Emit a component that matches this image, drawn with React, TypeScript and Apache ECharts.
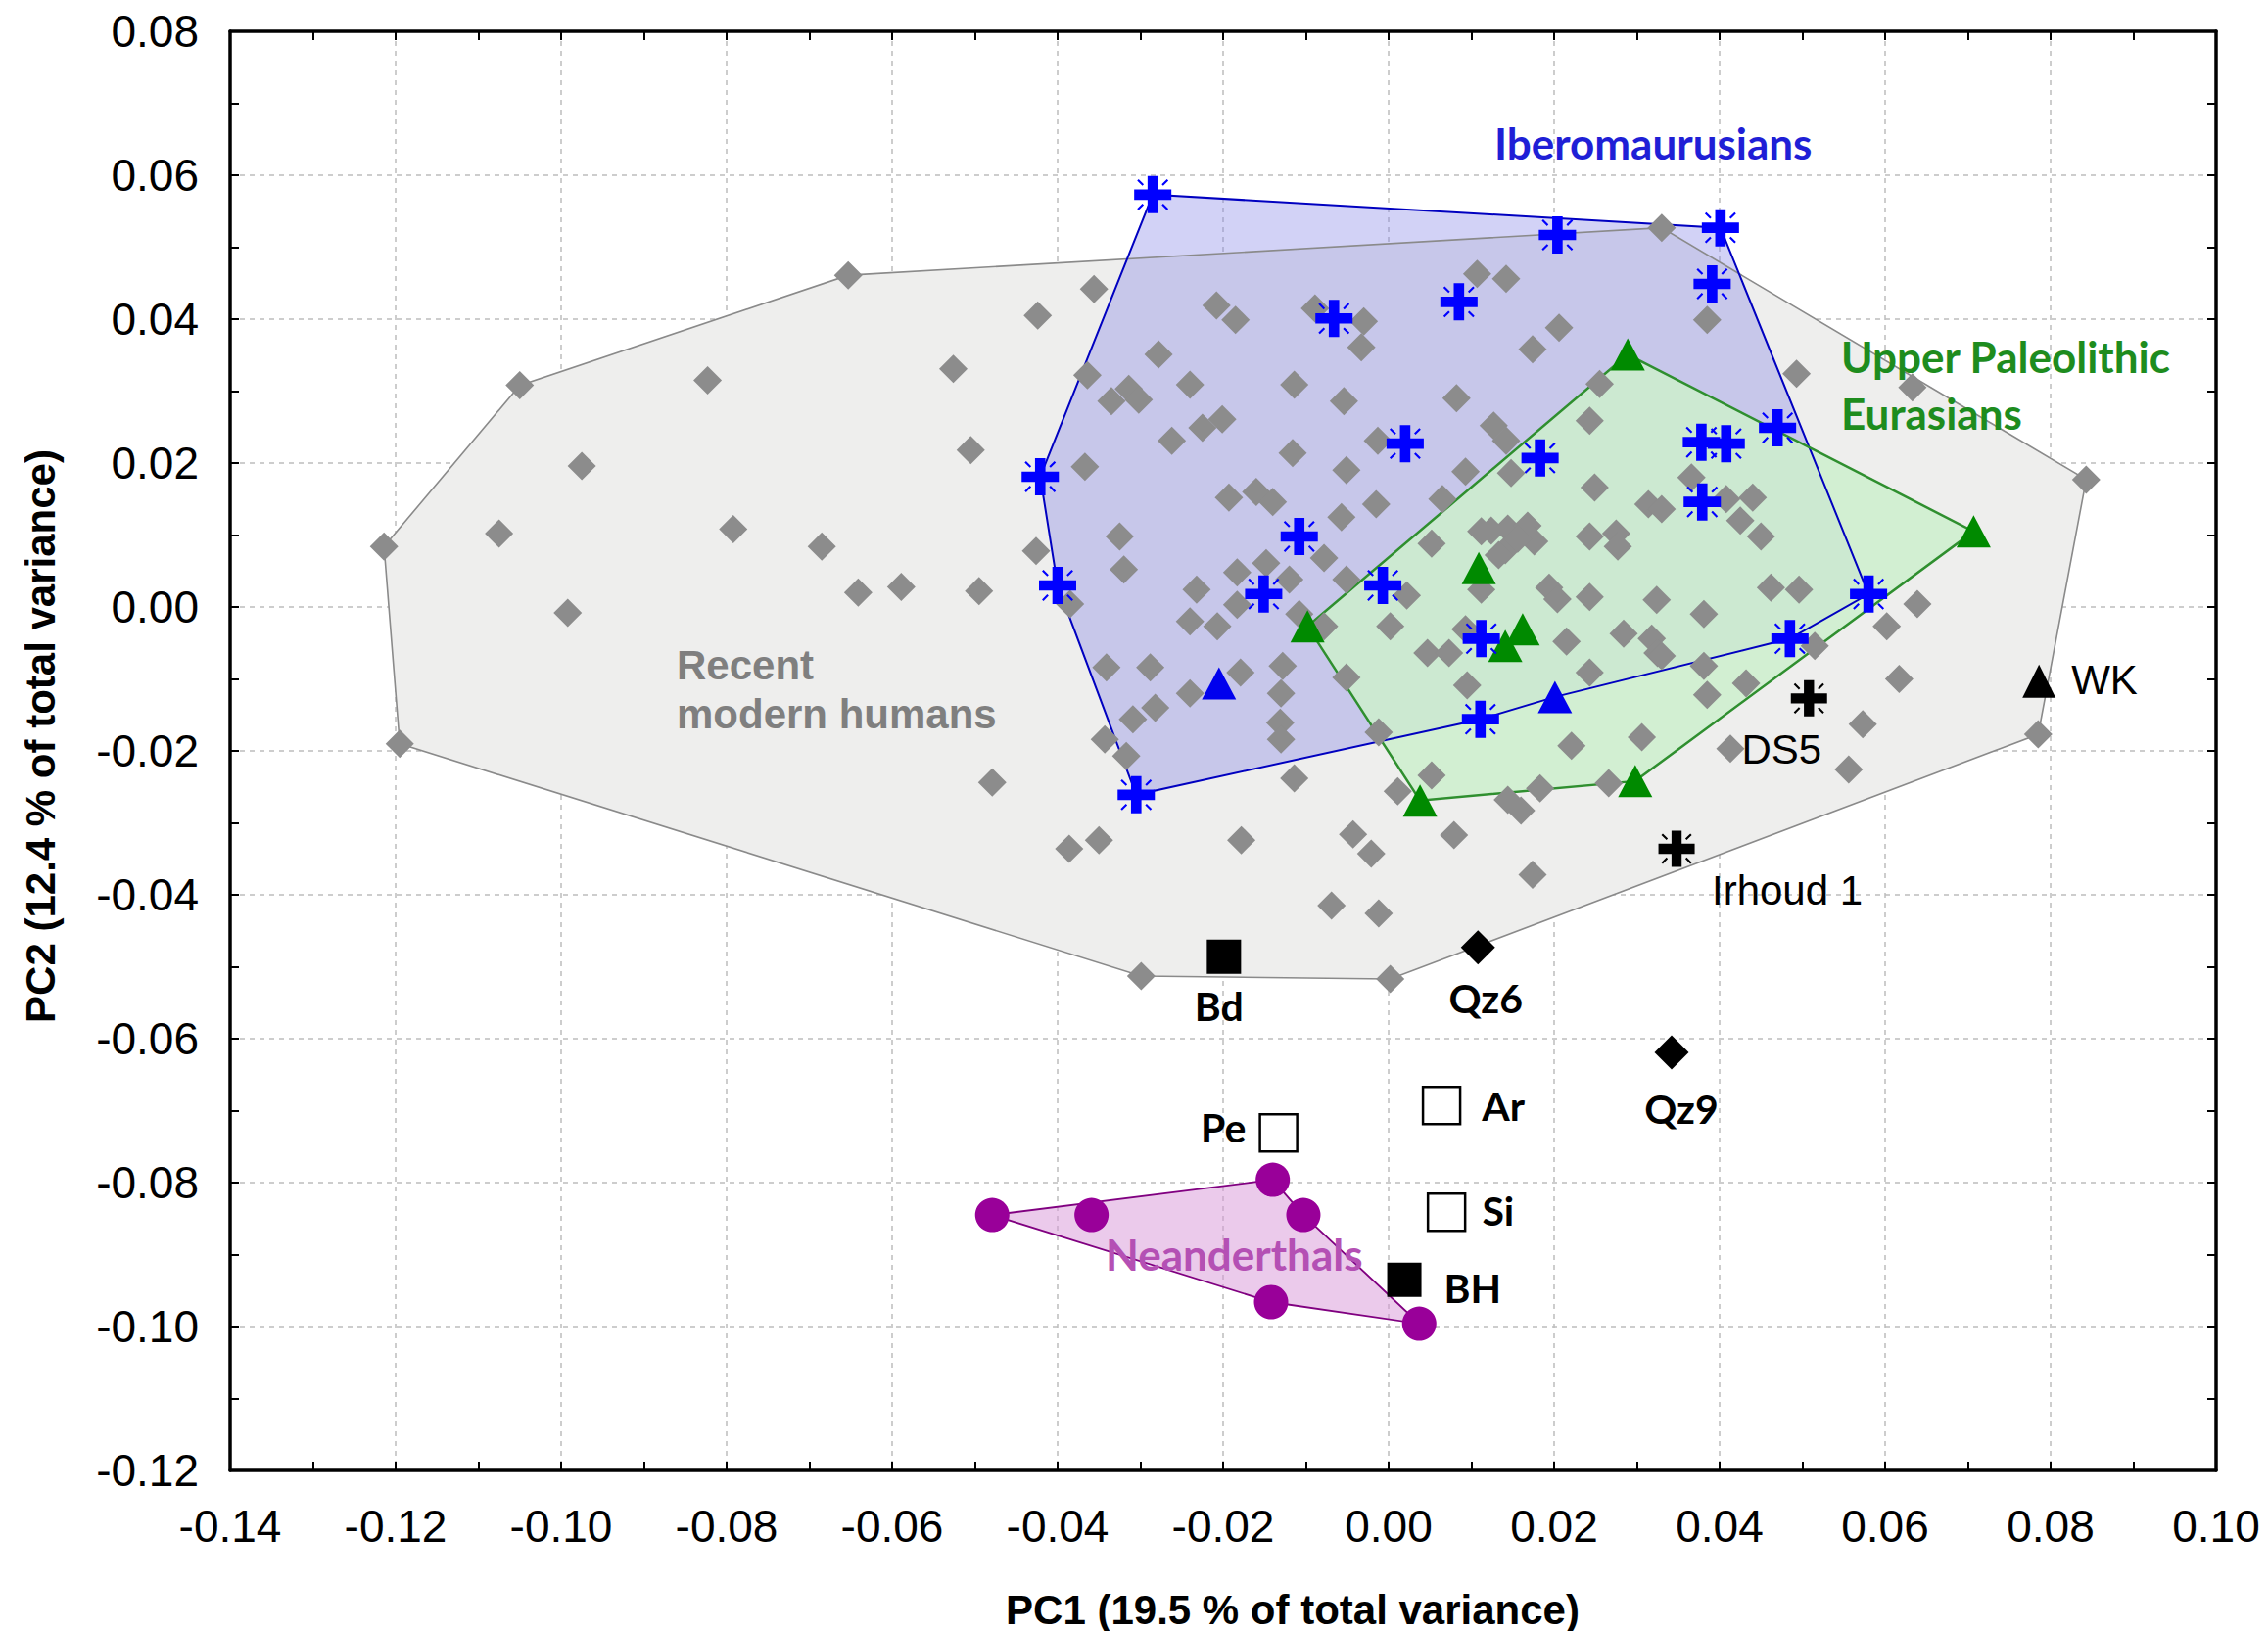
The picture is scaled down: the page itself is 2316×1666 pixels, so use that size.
import React, { useEffect, useRef } from "react";
import * as echarts from "echarts";

// ---------- axes ----------
const X_MIN = -0.14;
const X_MAX = 0.1;
const Y_MIN = -0.12;
const Y_MAX = 0.08;
const STEP = 0.02;

// ---------- Recent modern humans ----------
const recentModernHull: number[][] = [
  [-0.1214, 0.0084], [-0.105, 0.0308], [-0.0653, 0.0461], [0.033, 0.0527],
  [0.0843, 0.0177], [0.0785, -0.0177], [0.0002, -0.0517], [-0.0299, -0.0513],
  [-0.1195, -0.019],
];

const recentModern: number[][] = [
  // hull vertices
  [-0.1214, 0.0084], [-0.105, 0.0308], [-0.0653, 0.0461], [0.033, 0.0527],
  [0.0843, 0.0177], [0.0785, -0.0177], [0.0002, -0.0517], [-0.0299, -0.0513],
  [-0.1195, -0.019],
  // left part
  [-0.1075, 0.0102], [-0.0975, 0.0196], [-0.0992, -0.0008], [-0.0823, 0.0315],
  [-0.0792, 0.0108], [-0.0685, 0.0084], [-0.0641, 0.002], [-0.0589, 0.0028],
  [-0.0526, 0.0331], [-0.0495, 0.0022], [-0.0479, -0.0244], [-0.0505, 0.0218],
  // centre-left block
  [-0.0356, 0.0442], [-0.0424, 0.0405], [-0.0208, 0.0419], [-0.0185, 0.0399],
  [-0.003, 0.0397], [-0.0033, 0.0361], [-0.0089, 0.0415], [-0.0278, 0.0351],
  [-0.0364, 0.0322], [-0.0335, 0.0286], [-0.0314, 0.0303], [-0.0302, 0.0288],
  [-0.024, 0.0309], [-0.0114, 0.0309], [-0.0054, 0.0286], [0.0082, 0.029],
  [-0.0262, 0.0231], [-0.0225, 0.0249], [-0.0201, 0.0261], [-0.0116, 0.0214],
  [-0.0051, 0.019], [-0.0013, 0.0231], [-0.0367, 0.0195], [0.0093, 0.0188],
  [-0.0193, 0.0152], [-0.016, 0.016], [-0.014, 0.0146], [-0.0057, 0.0125],
  [-0.0015, 0.0143], [0.0065, 0.015], [-0.0325, 0.0098], [-0.0426, 0.0078],
  [-0.032, 0.0052], [0.0052, 0.0088], [-0.0148, 0.0061], [-0.0183, 0.0048],
  [-0.012, 0.0038], [-0.0078, 0.0068], [-0.0051, 0.0038], [-0.0232, 0.0024],
  [-0.0183, 0.0003], [-0.024, -0.002], [-0.0207, -0.0027], [0.0022, 0.0016],
  [0.0002, -0.0027], [0.0047, -0.0064], [0.0073, -0.0064], [-0.0078, -0.0027],
  [-0.0385, 0.0004], [-0.0108, -0.001], [0.0093, -0.0031],
  // centre-right block
  [0.0107, 0.0463], [0.0142, 0.0456], [0.0206, 0.0388], [0.0174, 0.0358],
  [0.0385, 0.0399], [0.0493, 0.0324], [0.0255, 0.031], [0.0243, 0.0259],
  [0.0127, 0.0252], [0.0142, 0.0231], [0.0148, 0.0186], [0.0249, 0.0166],
  [0.0314, 0.0143], [0.033, 0.0136], [0.0366, 0.018], [0.0408, 0.015],
  [0.044, 0.0152], [0.0425, 0.012], [0.045, 0.0098], [0.0112, 0.0105],
  [0.0144, 0.0109], [0.0168, 0.0113], [0.0141, 0.0079], [0.0176, 0.0091],
  [0.0243, 0.0098], [0.0275, 0.0102], [0.0277, 0.0084], [0.0112, 0.0024],
  [0.0194, 0.0027], [0.0204, 0.0011], [0.0243, 0.0014], [0.0324, 0.001],
  [0.0381, -0.001], [0.0462, 0.0027], [0.0496, 0.0024], [0.0602, -0.0027],
  [0.0215, -0.0048], [0.0284, -0.0037], [0.0318, -0.0044], [0.0325, -0.0064],
  [0.0515, -0.0054], [0.0124, 0.0106], [0.0156, 0.0095], [0.0133, 0.0072],
  [0.0633, 0.0305], [0.0639, 0.0004],
  // lower-left block
  [-0.0341, -0.0084], [-0.0288, -0.0084], [-0.024, -0.012], [-0.0179, -0.0091],
  [-0.0128, -0.0082], [-0.013, -0.012], [-0.0309, -0.0156], [-0.0282, -0.014],
  [-0.0343, -0.0184], [-0.0317, -0.0207], [-0.0131, -0.0161], [-0.013, -0.0184],
  [-0.0114, -0.0238], [-0.0051, -0.0098], [-0.0012, -0.0174], [0.0095, -0.0109],
  [0.0011, -0.0256], [0.0052, -0.0234], [-0.0386, -0.0336], [-0.035, -0.0324],
  [-0.0178, -0.0324], [-0.0043, -0.0316], [-0.0021, -0.0343], [0.0079, -0.0317],
  [-0.0069, -0.0415], [-0.0012, -0.0426],
  // lower-right block
  [0.033, -0.0068], [0.0243, -0.0091], [0.0381, -0.0082], [0.0385, -0.0122],
  [0.0432, -0.0106], [0.0617, -0.01], [0.0573, -0.0163], [0.0556, -0.0226],
  [0.0221, -0.0193], [0.0306, -0.0181], [0.0413, -0.0197], [0.0183, -0.0252],
  [0.0266, -0.0245], [0.0144, -0.0268], [0.016, -0.0283], [0.0174, -0.0372],
];

// ---------- Iberomaurusians ----------
const iberoHull: number[][] = [
  [-0.0285, 0.0573], [0.0401, 0.0527], [0.058, 0.0018], [0.0485, -0.0044],
  [0.0201, -0.0125], [0.0111, -0.0156], [-0.0305, -0.0261], [-0.04, 0.003],
  [-0.0421, 0.0181],
];
const iberoCrosses: number[][] = [
  [-0.0285, 0.0573], [0.0204, 0.0517], [0.0401, 0.0527], [0.0391, 0.0449],
  [-0.0066, 0.0401], [0.0085, 0.0424], [0.002, 0.0227], [0.0183, 0.0207],
  [0.0378, 0.0229], [0.0408, 0.0227], [0.047, 0.0249], [0.0379, 0.0146],
  [-0.0421, 0.0181], [-0.0108, 0.0098], [-0.04, 0.003], [-0.0151, 0.0018],
  [-0.0007, 0.003], [0.058, 0.0018], [0.0485, -0.0044], [0.0112, -0.0044],
  [0.0111, -0.0156], [-0.0305, -0.0261],
];
const iberoTriangles: number[][] = [[-0.0205, -0.0106], [0.0201, -0.0125]];

// ---------- Upper Paleolithic Eurasians ----------
const upperPaleoHull: number[][] = [
  [0.0289, 0.0351], [0.0707, 0.0105], [0.0298, -0.0242], [0.0038, -0.0269],
  [-0.0098, -0.0027],
];
const upperPaleo: number[][] = [
  [0.0289, 0.0351], [0.0707, 0.0105], [0.0109, 0.0054], [0.0162, -0.0031],
  [0.0141, -0.0054], [-0.0098, -0.0027], [0.0038, -0.0269], [0.0298, -0.0242],
];

// ---------- Neanderthals ----------
const neanderthalHull: number[][] = [
  [-0.0479, -0.0845], [-0.014, -0.0796], [-0.0103, -0.0845], [0.0037, -0.0996],
  [-0.0142, -0.0966],
];
const neanderthals: number[][] = [
  [-0.0479, -0.0845], [-0.0359, -0.0845], [-0.014, -0.0796], [-0.0103, -0.0845],
  [-0.0142, -0.0966], [0.0037, -0.0996],
];

// ---------- individual specimens ----------
const specimenNames = ["Bd", "BH", "Pe", "Ar", "Si", "Qz6", "Qz9", "DS5", "Irhoud 1", "WK"];
const specimenX = [-0.0199, 0.0019, -0.0133, 0.0064, 0.007, 0.0108, 0.0342, 0.0508, 0.0348, 0.0786];
const specimenY = [-0.0486, -0.0935, -0.0731, -0.0693, -0.0841, -0.0473, -0.0619, -0.0127, -0.0336, -0.0103];
const specimenKind = ["fillSq", "fillSq", "openSq", "openSq", "openSq", "diamond", "diamond", "cross", "cross", "triangle"];

// ---------- styling (not data) ----------
const CROSS =
  "path://M36,0 L64,0 L64,36 L100,36 L100,64 L64,64 L64,100 L36,100 L36,64 L0,64 L0,36 L36,36 Z " +
  "M8,12 L12,8 L26,22 L22,26 Z M88,8 L92,12 L78,26 L74,22 Z " +
  "M8,88 L22,74 L26,78 L12,92 Z M92,88 L88,92 L74,78 L78,74 Z";

const LABEL_LAYOUT: Record<string, any> = {
  Bd: { position: "inside", offset: [-5, 50], font: "calibri" },
  BH: { position: "right", distance: 23, offset: [0, 8], font: "calibri" },
  Pe: { position: "left", distance: 13, offset: [0, -6], font: "calibri" },
  Ar: { position: "right", distance: 21, offset: [0, 0], font: "calibri" },
  Si: { position: "right", distance: 16, offset: [0, -2], font: "calibri" },
  Qz6: { position: "inside", offset: [8, 52], font: "calibri" },
  Qz9: { position: "inside", offset: [10, 58], font: "calibri" },
  DS5: { position: "inside", offset: [-28, 52], font: "arial" },
  "Irhoud 1": { position: "inside", offset: [113, 43], font: "arial" },
  WK: { position: "right", distance: 16, offset: [0, -1], font: "arial" },
};

const KIND_STYLE: Record<string, any> = {
  fillSq: { symbol: "rect", symbolSize: 35, itemStyle: { color: "#000", opacity: 1 } },
  openSq: { symbol: "rect", symbolSize: 38, itemStyle: { color: "#fff", borderColor: "#000", borderWidth: 2.5, opacity: 1 } },
  diamond: { symbol: "diamond", symbolSize: 35, itemStyle: { color: "#000", opacity: 1 } },
  cross: { symbol: CROSS, symbolSize: 37, itemStyle: { color: "#000", opacity: 1 } },
  triangle: { symbol: "triangle", symbolSize: [34, 34], itemStyle: { color: "#000", opacity: 1 } },
};

function polygonSeries(points: number[][], style: any, z: number) {
  return {
    type: "custom",
    z,
    silent: true,
    clip: true,
    data: points,
    encode: { x: 0, y: 1 },
    renderItem: (params: any, api: any) => {
      if (params.dataIndex !== 0) return null;
      const pts = points.map((p) => api.coord(p));
      return { type: "polygon", shape: { points: pts }, style };
    },
  };
}

function fmt(v: number) {
  const n = Math.abs(v) < 1e-9 ? 0 : v;
  return n.toFixed(2);
}

function axisBase(min: number, max: number) {
  return {
    type: "value",
    min,
    max,
    interval: STEP,
    axisLine: { show: true, onZero: false, lineStyle: { color: "#000", width: 3.5 } },
    axisTick: { show: true, inside: true, length: 9, lineStyle: { color: "#000", width: 2 } },
    minorTick: { show: true, splitNumber: 2, length: 9, lineStyle: { color: "#000", width: 2 } },
    minorSplitLine: { show: false },
  };
}

const labelStyle = {
  show: true,
  color: "#000",
  fontSize: 46,
  fontFamily: "Liberation Sans",
  formatter: fmt,
  showMinLabel: true,
  showMaxLabel: true,
};

const gridLine = { show: true, lineStyle: { color: "#bdbdbd", type: [5, 5], width: 1.5 } };

function scatter(data: number[][], symbol: any, symbolSize: any, color: string) {
  return {
    type: "scatter",
    z: 5,
    silent: true,
    symbol,
    symbolSize,
    itemStyle: { color, opacity: 1 },
    data,
  };
}

function textEl(text: string, x: number, y: number, color: string, size: number, family: string, align = "left", rotation = 0) {
  return {
    type: "text",
    x,
    y,
    rotation,
    z: 100,
    style: {
      text,
      fill: color,
      fontSize: size,
      fontWeight: "bold",
      fontFamily: family,
      align,
      verticalAlign: "middle",
      textAlign: align,
      textVerticalAlign: "middle",
    },
  };
}

function buildOption() {
  const specimenSeries: any[] = [];
  specimenNames.forEach((name, i) => {
    const k = KIND_STYLE[specimenKind[i]];
    const lay = LABEL_LAYOUT[name];
    const calibri = lay.font === "calibri";
    specimenSeries.push({
      type: "scatter",
      z: 6,
      silent: true,
      symbol: k.symbol,
      symbolSize: k.symbolSize,
      itemStyle: k.itemStyle,
      data: [[specimenX[i], specimenY[i]]],
      label: {
        show: true,
        formatter: name,
        position: lay.position,
        distance: lay.distance ?? 5,
        offset: lay.offset,
        color: "#000",
        fontSize: calibri ? 41 : 42,
        fontWeight: calibri ? "bold" : "normal",
        fontFamily: calibri ? "Lato" : "Liberation Sans",
      },
    });
  });

  return {
    animation: false,
    backgroundColor: "#fff",
    grid: { left: 235, right: 53, top: 32, bottom: 164, outerBoundsMode: "none", containLabel: false },
    xAxis: [
      {
        ...axisBase(X_MIN, X_MAX),
        position: "bottom",
        axisLabel: { ...labelStyle, margin: 34 },
        splitLine: gridLine,
      },
      {
        ...axisBase(X_MIN, X_MAX),
        position: "top",
        axisLabel: { show: false },
        splitLine: { show: false },
      },
    ],
    yAxis: [
      {
        ...axisBase(Y_MIN, Y_MAX),
        position: "left",
        axisLabel: { ...labelStyle, margin: 32 },
        splitLine: gridLine,
      },
      {
        ...axisBase(Y_MIN, Y_MAX),
        position: "right",
        axisLabel: { show: false },
        splitLine: { show: false },
      },
    ],
    series: [
      polygonSeries(recentModernHull, { fill: "#eeeeed", stroke: "none" }, 1),
      polygonSeries(iberoHull, { fill: "rgba(130,130,230,0.36)", stroke: "none" }, 2),
      polygonSeries(upperPaleoHull, { fill: "rgba(205,238,205,0.85)", stroke: "none" }, 3),
      polygonSeries(neanderthalHull, { fill: "rgba(215,150,215,0.5)", stroke: "none" }, 2),
      polygonSeries(recentModernHull, { fill: "none", stroke: "#8a8a8a", lineWidth: 1.6 }, 4),
      polygonSeries(iberoHull, { fill: "none", stroke: "#0000c0", lineWidth: 2 }, 4),
      polygonSeries(upperPaleoHull, { fill: "none", stroke: "#2f8f2f", lineWidth: 2.5 }, 4),
      polygonSeries(neanderthalHull, { fill: "none", stroke: "#800080", lineWidth: 1.8 }, 4),
      scatter(recentModern, "diamond", 29, "#8c8c8c"),
      scatter(upperPaleo, "triangle", [35, 33], "#008a00"),
      scatter(iberoCrosses, CROSS, 38, "#0000ff"),
      scatter(iberoTriangles, "triangle", [35, 33], "#0000ee"),
      scatter(neanderthals, "circle", 35, "#990099"),
      ...specimenSeries,
    ],
    graphic: [
      textEl("Iberomaurusians", 1526, 146, "#1f1fd6", 44, "Lato"),
      textEl("Upper Paleolithic", 1880, 364, "#1e8c1e", 44, "Lato"),
      textEl("Eurasians", 1880, 422, "#1e8c1e", 44, "Lato"),
      textEl("Neanderthals", 1129, 1281, "#b450b4", 44, "Lato"),
      textEl("Recent", 691, 679, "#7f7f7f", 42, "Liberation Sans"),
      textEl("modern humans", 691, 729, "#7f7f7f", 42, "Liberation Sans"),
      textEl("PC1 (19.5 % of total variance)", 1320, 1644, "#000", 42, "Liberation Sans", "center"),
      textEl("PC2 (12.4 % of total variance)", 41, 752, "#000", 42, "Liberation Sans", "center", Math.PI / 2),
    ],
  };
}

export default function App() {
  const ref = useRef<HTMLDivElement>(null);
  useEffect(() => {
    document.body.style.margin = "0";
    if (!ref.current) return;
    const chart = echarts.init(ref.current, null, { renderer: "svg" });
    chart.setOption(buildOption() as any);
    return () => {
      chart.dispose();
    };
  }, []);
  return <div ref={ref} style={{ width: 2316, height: 1666, background: "#fff" }} />;
}
